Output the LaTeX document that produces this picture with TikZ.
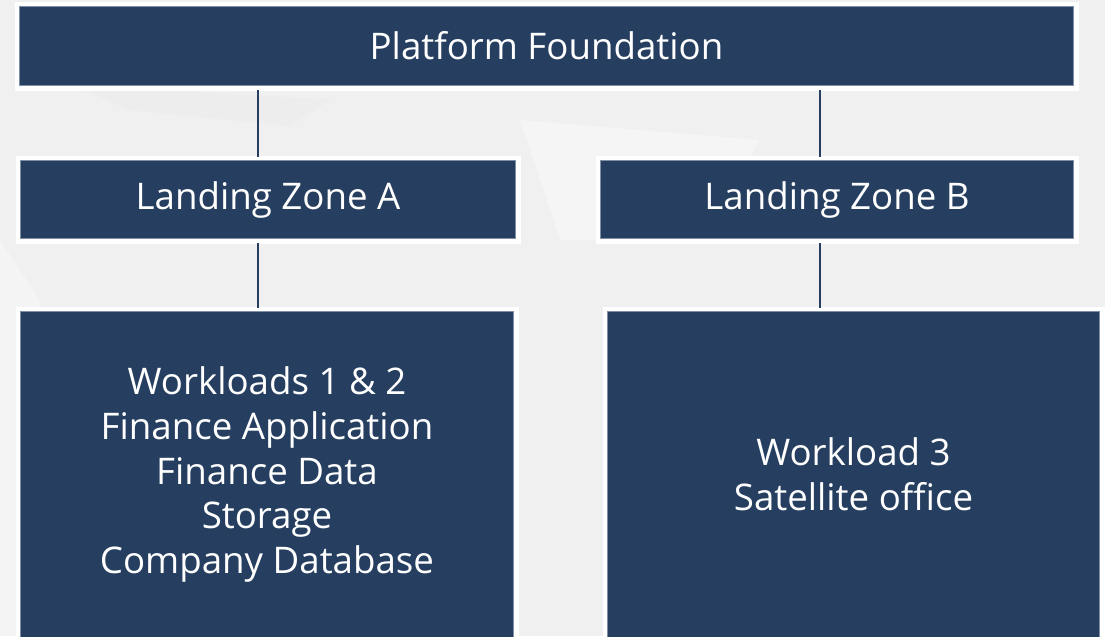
\documentclass[tikz,border=0pt]{standalone}
\usepackage{fontspec}
\setmainfont{Open Sans}
\usepackage{tikz}
\usetikzlibrary{positioning,calc}

\definecolor{boxnavy}{HTML}{263F60}
\definecolor{boxedge}{HTML}{7F8FA6}
\definecolor{backgray}{HTML}{F0F0F0}
\def\pxu{0.75pt}

\begin{document}
\begin{tikzpicture}[x=0.75pt, y=-0.75pt,
    zone/.style={rectangle, anchor=north west, inner sep=0pt, align=center,
        fill=boxnavy, draw=boxedge, line width=1*\pxu,
        preaction={draw=white, line width=10*\pxu},
        text=white, font=\fontsize{27.5}{33.6}\selectfont},
    link/.style={draw=boxnavy, line width=1.6*\pxu}]
    % Background
    \fill[backgray] (0,0) rectangle (1105,636);
    \fill[gray!14] (80,88) -- (130,110) -- (290,126) -- (330,100) -- (200,92) -- cycle;
    \fill[gray!9] (0,240) -- (40,300) -- (30,636) -- (0,636) -- cycle;
    \fill[gray!10] (740,540) -- (860,500) -- (860,636) -- (740,636) -- cycle;
    \fill[white!35!backgray] (520,120) -- (760,140) -- (700,240) -- (560,240) -- cycle;
    \useasboundingbox (0,0) rectangle (1105,636);

    % Platform level
    \node[zone, minimum width=1054*\pxu, minimum height=79*\pxu] (pf) at (19,6) {Platform Foundation};

    % Landing zones
    \node[zone, minimum width=495*\pxu, minimum height=78*\pxu] (lza) at (20,160) {Landing Zone A};
    \node[zone, minimum width=473*\pxu, minimum height=78*\pxu] (lzb) at (600,160) {Landing Zone B};

    % Workloads
    \node[zone, minimum width=493*\pxu, minimum height=326*\pxu] (wla) at (20,311)
        {Workloads 1 \& 2\\Finance Application\\Finance Data\\Storage\\Company Database};
    \node[zone, minimum width=492*\pxu, minimum height=326*\pxu] (wlb) at (607,311)
        {Workload 3\\Satellite office};

    % Connectors
    \coordinate (ja) at (258,0);
    \coordinate (jb) at (820,0);
    \draw[link, shorten <=4*\pxu, shorten >=3*\pxu] (pf.south -| ja) -- (lza.north -| ja);
    \draw[link, shorten <=4*\pxu, shorten >=3*\pxu] (pf.south -| jb) -- (lzb.north -| jb);
    \draw[link, shorten <=4*\pxu, shorten >=3*\pxu] (lza.south -| ja) -- (wla.north -| ja);
    \draw[link, shorten <=4*\pxu, shorten >=3*\pxu] (lzb.south -| jb) -- (wlb.north -| jb);
\end{tikzpicture}
\end{document}
